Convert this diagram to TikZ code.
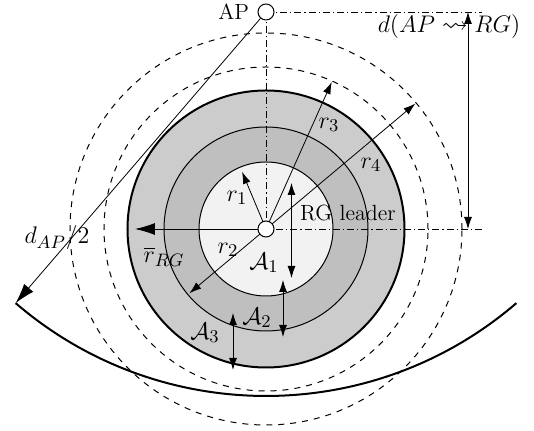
\documentclass[tikz,border=0pt]{standalone}
\usepackage{amsmath, amssymb}
\usepackage{tikz}
\usetikzlibrary{arrows.meta, positioning, calc}

\begin{document}
\begin{tikzpicture}[x=0.5pt, y=0.5pt,
    dashdot/.style={line width=0.4pt, dash pattern=on 3.5pt off 1.5pt on 0.6pt off 1.5pt},
    ring/.style={line width=0.5pt},
    hub/.style={circle, draw, fill=white, line width=0.5pt, minimum size=8pt, inner sep=0pt},
    dim/.style={line width=0.4pt, -{Latex[length=6pt,width=4pt]}},
    dimbig/.style={line width=0.4pt, -{Latex[length=10pt,width=6pt]}},
    dimboth/.style={line width=0.4pt, {Latex[length=6pt,width=4pt]}-{Latex[length=6pt,width=4pt]}},
    lbl/.style={inner sep=1pt, font=\fontsize{13pt}{15pt}\selectfont},
    txt/.style={inner sep=1pt, font=\fontsize{11pt}{13pt}\selectfont}]
    \useasboundingbox (-266,-202) rectangle (268,229);
    % rings round the leader
    \fill[black!20] (0,0) circle (138.5);
    \fill[black!25] (0,0) circle (102);
    \fill[black!5] (0,0) circle (67);
    \draw[line width=1pt] (0,0) circle (138.5);
    \draw[ring] (0,0) circle (102);
    \draw[ring] (0,0) circle (67);
    \foreach \r in {162,196} \draw[ring, dashed] (0,0) circle (\r);
    % points
    \coordinate (AP) at (0,217);
    \coordinate (arcL) at ($(AP)+(229.3:384)$);
    \draw[line width=1pt] (arcL) arc (229.3:310.7:384);
    \coordinate (apEnd) at (216,217);
    \coordinate (ldEnd) at (216,0);
    \coordinate (dTop) at (202,217);
    \coordinate (dBot) at (202,0);
    \coordinate (r1tip) at (112.7:62);
    \coordinate (r2tip) at (220:100);
    \coordinate (r3tip) at (65.9:161);
    \coordinate (r4tip) at (40:195);
    \coordinate (rgtip) at (180:131);
    \coordinate (a1top) at (25.5,46);
    \coordinate (a1bot) at (25.5,-49);
    \coordinate (a2top) at (17,-51);
    \coordinate (a2bot) at (17,-108);
    \coordinate (a3top) at (-33,-84);
    \coordinate (a3bot) at (-33,-141);
    % guide lines
    \draw[dashdot] (AP) -- (apEnd);
    \draw[dashdot] (AP) -- (0,0) -- (ldEnd);
    % radii
    \draw[dim] (0,0) -- (r1tip);
    \draw[dim] (0,0) -- (r2tip);
    \draw[dim] (0,0) -- (r3tip);
    \draw[dim] (0,0) -- (r4tip);
    \draw[dimbig] (0,0) -- (rgtip);
    \draw[dimboth] (a1top) -- (a1bot);
    \draw[dimboth] (a2top) -- (a2bot);
    \draw[dimboth] (a3top) -- (a3bot);
    \node[hub] (ap) at (AP) {};
    \node[hub] (lead) at (0,0) {};
    \draw[dimbig] (ap) -- (arcL);
    % labels
    \node[txt, left=3pt of ap] (aptext) {AP};
    \node[lbl] (dlbl) at (183,202) {$d(AP \rightsquigarrow RG)$};
    \draw[dimboth] (dTop) -- (dBot);
    \node[txt] (leadtext) at (82,16) {RG leader};
    \node[lbl] (r1lbl) at (-29,31) {$r_1$};
    \node[lbl] (r2lbl) at (-38,-21) {$r_2$};
    \node[lbl] (r3lbl) at (63,104) {$r_3$};
    \node[lbl] (r4lbl) at (105,64) {$r_4$};
    \node[lbl] (rglbl) at (-102,-28) {$\overline{r}_{RG}$};
    \node[lbl] (a1lbl) at (-2,-34) {$\mathcal{A}_1$};
    \node[lbl] (a2lbl) at (-9,-89) {$\mathcal{A}_2$};
    \node[lbl] (a3lbl) at (-61,-104) {$\mathcal{A}_3$};
    \node[lbl] (dhalf) at (-209,-9) {$d_{AP}/2$};
\end{tikzpicture}
\end{document}
